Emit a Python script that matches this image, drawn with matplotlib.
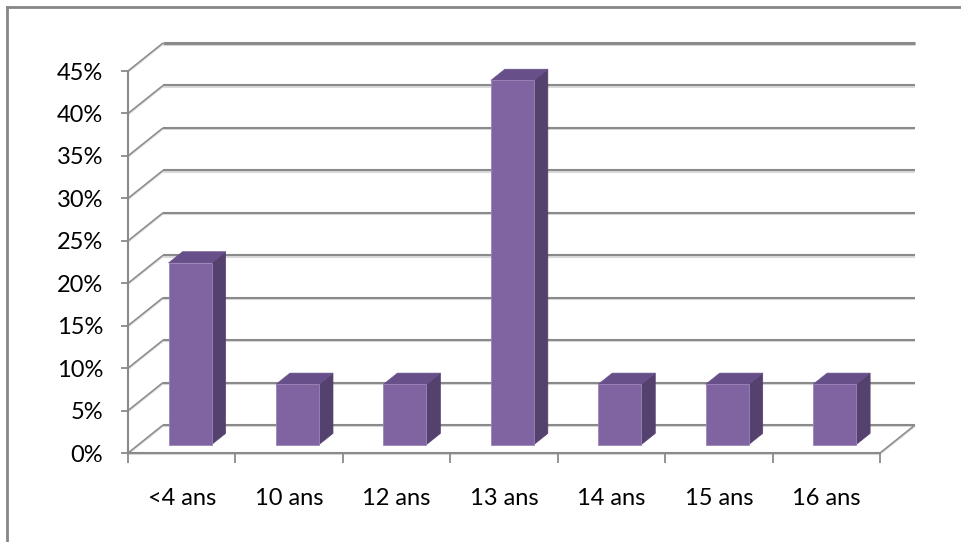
import matplotlib.pyplot as plt
from matplotlib.patches import Polygon
from matplotlib.lines import Line2D

# data
categories = ['<4 ans', '10 ans', '12 ans', '13 ans', '14 ans', '15 ans', '16 ans']
values = [21.4, 7.1, 7.1, 42.9, 7.1, 7.1, 7.1]
yticks = [0, 5, 10, 15, 20, 25, 30, 35, 40, 45]

W, H = 961, 542
fig = plt.figure(figsize=(W / 100, H / 100), dpi=100)
plt.rcParams['font.family'] = ['Lato', 'DejaVu Sans']

# axes sits on the front plane of the 3D box
x0p, x1p, y0p, y1p = 128, 880, 453, 71
ax = fig.add_axes([x0p / W, 1 - y0p / H, (x1p - x0p) / W, (y0p - y1p) / H])
n = len(categories)
ax.set_xlim(0, n)
ax.set_ylim(0, 45)

# depth vector (back wall offset) in data units
px_x = n / (x1p - x0p)
px_y = 45 / (y0p - y1p)
DX, DY = 35 * px_x, 28 * px_y

grid_dark = '#8a8a8a'
grid_light = '#dadada'

def wall_line(xs, ys, lw=1.5, z=1):
    ax.plot(xs, [y - 1.3 * px_y for y in ys], color=grid_light, lw=lw,
            clip_on=False, zorder=z, solid_capstyle='butt')
    ax.plot(xs, ys, color=grid_dark, lw=lw, clip_on=False, zorder=z + 0.1,
            solid_capstyle='butt')

for t in yticks:
    wall_line([0, DX], [t, t + DY], lw=1.1)
    wall_line([DX, n + DX], [t + DY, t + DY], lw=2.2 if t == 45 else 1.5)

# floor
wall_line([0, n], [0, 0])
wall_line([n, n + DX], [0, DY], lw=1.1)

# bars
w = 0.4
f = 0.3
sdx, sdy = 0.4 * DX, 0.4 * DY
c_front, c_side, c_top = '#8064a2', '#55416e', '#67508a'
for i, v in enumerate(values):
    bx = i + 0.5 - w / 2 + f * DX - 0.02
    by = f * DY
    front = [(bx, by), (bx + w, by), (bx + w, by + v), (bx, by + v)]
    side = [(bx + w, by), (bx + w + sdx, by + sdy), (bx + w + sdx, by + v + sdy), (bx + w, by + v)]
    top = [(bx, by + v), (bx + w, by + v), (bx + w + sdx, by + v + sdy), (bx + sdx, by + v + sdy)]
    ax.add_patch(Polygon(side, closed=True, facecolor=c_side, edgecolor=c_side, lw=0.5, zorder=5, clip_on=False))
    ax.add_patch(Polygon(top, closed=True, facecolor=c_top, edgecolor=c_top, lw=0.5, zorder=5, clip_on=False))
    ax.add_patch(Polygon(front, closed=True, facecolor=c_front, edgecolor='#9a86b8', lw=0.6, zorder=6, clip_on=False))

# spines and ticks
for s in ['top', 'right', 'bottom']:
    ax.spines[s].set_visible(False)
ax.spines['left'].set_color(grid_dark)
ax.spines['left'].set_linewidth(1.5)
ax.set_yticks(yticks)
ax.set_yticklabels([f'{t}%' for t in yticks])
ax.tick_params(axis='y', length=5, width=1.3, color=grid_dark, pad=13,
               labelsize=17, labelcolor='black')

ax.set_xticks([i + 0.5 for i in range(n)])
ax.set_xticklabels(categories)
ax.set_xticks(range(n + 1), minor=True)
ax.tick_params(axis='x', which='major', length=0, pad=25, labelsize=17, labelcolor='black')
ax.tick_params(axis='x', which='minor', length=7, width=1.3, color=grid_dark, direction='out')

# chart border (left and top visible)
fig.add_artist(Line2D([7 / W, 7 / W], [0, 1 - 7 / H], color='#878787', lw=2))
fig.add_artist(Line2D([7 / W, 1], [1 - 7 / H, 1 - 7 / H], color='#878787', lw=2))

fig.savefig('out.png', dpi=100, facecolor='white')
